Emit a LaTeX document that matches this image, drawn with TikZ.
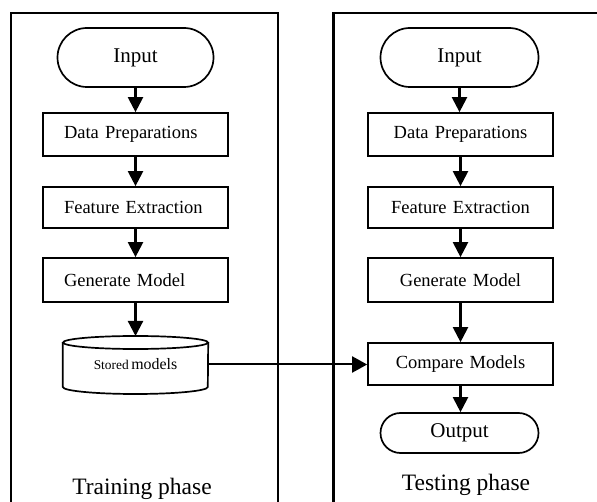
\documentclass[tikz,border=0pt]{standalone}
\usepackage{fontspec}
\setmainfont{Liberation Serif}
\usetikzlibrary{arrows.meta}

\begin{document}
\begin{tikzpicture}[x=1pt, y=-1pt,
  panel/.style={line width=2.2pt},
  stepbox/.style={draw, line width=1.7pt, minimum width=185pt, inner sep=0pt,
    font=\fontsize{18.5}{20}\selectfont},
  leftbox/.style={stepbox, text width=143pt, inner xsep=21pt, align=left},
  rightbox/.style={stepbox, text width=185pt, align=center},
  terminal/.style={draw, line width=1.7pt, rounded corners=#1, inner sep=0pt,
    font=\fontsize{21}{23}\selectfont},
  flow/.style={line width=2.2pt, -{Triangle[width=15pt,length=15pt]}},
  link/.style={line width=2pt, -{Triangle[width=16pt,length=15pt]}},
  phase/.style={anchor=base, font=\fontsize{23.5}{26}\selectfont}]

\useasboundingbox (0,0) rectangle (597,502);

% phase frames (open at the bottom)
\draw[panel] (11,502) -- (11,13) -- (278,13) -- (278,502);
\draw[panel] (333.5,502) -- (333.5,13) -- (597,13);

% training column
\node[terminal=29.5pt, minimum width=156pt, minimum height=59pt] (inL) at (135.5,57.5) {Input};
\node[leftbox, minimum height=43pt] (dpL) at (135.5,134.5) {Data Preparations};
\node[leftbox, minimum height=41pt] (feL) at (135.5,207.5) {Feature Extraction};
\node[leftbox, minimum height=44pt] (gmL) at (135.5,280) {Generate Model};
\node[minimum width=145pt, minimum height=57pt, inner sep=0pt] (smL) at (135.5,364.5)
  {{\fontsize{13.4}{15}\selectfont Stored} {\fontsize{15.9}{17}\selectfont models}};
% database cylinder drawn around the stored-models node
\draw[line width=1.7pt] (smL.west |- 0,342.5) -- (smL.west |- 0,387)
  arc[start angle=180, end angle=360, x radius=72.5pt, y radius=7pt]
  -- (smL.east |- 0,342.5);
\draw[line width=1.7pt] (smL.center |- 0,342.5) ellipse [x radius=72.5pt, y radius=6.5pt];
\node[phase] (trainL) at (142,494) {Training phase};

\draw[flow] (inL.south) -- (dpL.north);
\draw[flow] (dpL.south) -- (feL.north);
\draw[flow] (feL.south) -- (gmL.north);
\draw[flow] (gmL.south) -- (smL.center |- 0,336);

% testing column
\node[terminal=29.5pt, minimum width=158pt, minimum height=59pt] (inR) at (459.5,57.5) {Input};
\node[rightbox, minimum height=43pt] (dpR) at (460.5,134.5) {Data Preparations};
\node[rightbox, minimum height=41pt] (feR) at (460.5,207.5) {Feature Extraction};
\node[rightbox, minimum height=44pt] (gmR) at (460.5,280) {Generate Model};
\node[rightbox, minimum height=42pt] (cmR) at (460.5,364) {Compare Models};
\node[terminal=20pt, minimum width=158pt, minimum height=40pt] (outR) at (459.5,433) {Output};
\node[phase] (testR) at (466,490.6) {Testing phase};

\draw[flow] (inR.south) -- (inR.south |- dpR.north);
\draw[flow] (dpR.south) -- (feR.north);
\draw[flow] (feR.south) -- (gmR.north);
\draw[flow] (gmR.south) -- (cmR.north);
\draw[flow] (cmR.south) -- (cmR.south |- outR.north);

% stored models feed the comparison
\draw[link] (smL.east) -- (smL.east -| cmR.west);

\end{tikzpicture}
\end{document}
